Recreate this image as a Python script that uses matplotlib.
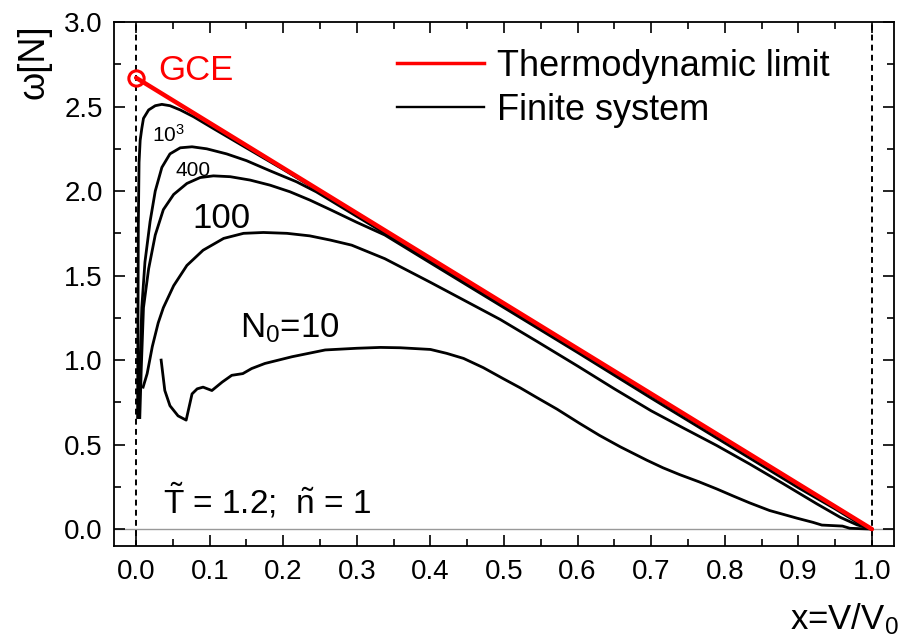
import matplotlib
matplotlib.use("Agg")
import matplotlib.pyplot as plt
from matplotlib.ticker import MultipleLocator
from matplotlib.lines import Line2D

plt.rcParams["font.family"] = ["Liberation Sans", "DejaVu Sans"]
plt.rcParams["mathtext.fontset"] = "custom"
plt.rcParams["mathtext.rm"] = "Liberation Sans"
plt.rcParams["mathtext.it"] = "Liberation Sans:italic"

# thermodynamic limit (straight line from the GCE point down to x = 1)
x_limit = [0.0, 1.0]
w_limit = [2.67, 0.0]

# finite systems
x_1000 = [0.002, 0.0025, 0.003, 0.004, 0.0055, 0.0077, 0.010, 0.017, 0.026, 0.035, 0.046,
          0.060, 0.078, 0.105, 0.15, 0.20, 0.30, 0.40, 0.50, 0.60, 0.70, 0.80, 0.90, 1.0]
w_1000 = [0.66, 1.20, 1.80, 2.17, 2.30, 2.37, 2.43, 2.48, 2.505, 2.513, 2.505,
          2.48, 2.44, 2.37, 2.255, 2.128, 1.862, 1.597, 1.331, 1.065, 0.799, 0.532, 0.266, 0.0]

x_400 = [0.004, 0.0055, 0.0077, 0.012, 0.019, 0.026, 0.035, 0.046, 0.060, 0.076, 0.096,
         0.123, 0.150, 0.182, 0.218, 0.245, 0.264, 0.30, 0.40, 0.50, 0.60, 0.70, 0.80,
         0.90, 1.0]
w_400 = [0.66, 1.00, 1.31, 1.58, 1.82, 2.00, 2.14, 2.22, 2.256, 2.262, 2.25,
         2.22, 2.18, 2.12, 2.055, 1.995, 1.945, 1.85, 1.588, 1.323, 1.058, 0.792, 0.527,
         0.262, 0.0]

x_200 = [0.005, 0.007, 0.010, 0.017, 0.026, 0.037, 0.051, 0.069, 0.087, 0.105, 0.128,
         0.155, 0.182, 0.209, 0.236, 0.264, 0.30, 0.338, 0.40, 0.50, 0.60, 0.70, 0.80,
         0.90, 0.95, 0.98, 1.0]
w_200 = [0.66, 0.95, 1.31, 1.54, 1.74, 1.89, 1.98, 2.045, 2.08, 2.09, 2.085,
         2.065, 2.035, 1.996, 1.947, 1.89, 1.815, 1.74, 1.575, 1.31, 1.045, 0.775, 0.51,
         0.245, 0.12, 0.04, 0.0]

x_100 = [0.0095, 0.015, 0.022, 0.030, 0.037, 0.051, 0.069, 0.091, 0.119, 0.146, 0.173,
         0.205, 0.236, 0.264, 0.293, 0.338, 0.40, 0.495, 0.545, 0.60, 0.65, 0.70, 0.743,
         0.789, 0.834, 0.879, 0.925, 0.957, 0.98, 1.0]
w_100 = [0.84, 0.92, 1.08, 1.22, 1.31, 1.44, 1.56, 1.65, 1.72, 1.75, 1.755,
         1.75, 1.735, 1.71, 1.68, 1.60, 1.46, 1.24, 1.11, 0.965, 0.83, 0.70, 0.60,
         0.495, 0.385, 0.27, 0.15, 0.07, 0.025, 0.0]

x_10 = [0.034, 0.039, 0.046, 0.057, 0.068, 0.076, 0.083, 0.091, 0.103, 0.117, 0.130, 0.145,
        0.157, 0.175, 0.212, 0.257, 0.300, 0.332, 0.359, 0.400, 0.422, 0.445, 0.472, 0.499,
        0.522, 0.544, 0.572, 0.603, 0.630, 0.658, 0.694, 0.716, 0.739, 0.765, 0.789, 0.812,
        0.834, 0.861, 0.898, 0.920, 0.932, 0.960, 0.970, 1.0]
w_10 = [1.00, 0.82, 0.73, 0.67, 0.645, 0.80, 0.83, 0.84, 0.82, 0.87, 0.91, 0.92,
        0.95, 0.98, 1.02, 1.06, 1.07, 1.075, 1.073, 1.063, 1.04, 1.01, 0.955, 0.89,
        0.836, 0.78, 0.71, 0.625, 0.554, 0.487, 0.408, 0.363, 0.322, 0.28, 0.238, 0.195,
        0.155, 0.11, 0.065, 0.04, 0.024, 0.018, 0.005, 0.0]

fig = plt.figure(figsize=(8.98, 6.39), dpi=100)
ax = fig.add_axes([0.127, 0.1455, 0.8685, 0.82])

ax.axhline(0.0, color="#999999", lw=1.0, zorder=1)
for xv in (0.0, 1.0):
    ax.axvline(xv, color="black", lw=1.4, ls=(0, (3, 2.2)), zorder=1)

for xs, ws in [(x_1000, w_1000), (x_400, w_400), (x_200, w_200), (x_100, w_100), (x_10, w_10)]:
    ax.plot(xs, ws, color="black", lw=2.0, solid_joinstyle="round", zorder=3)

ax.plot(x_limit, w_limit, color="red", lw=3.2, solid_capstyle="round", zorder=4)
ax.plot(x_limit[0], w_limit[0], marker="o", ms=11, mfc="none", mec="red", mew=2.2, zorder=5)

ax.text(0.030, 2.66, "GCE", color="red", fontsize=25)
ax.text(0.022, 2.29, r"10$^{3}$", fontsize=15)
ax.text(0.053, 2.09, "400", fontsize=15)
ax.text(0.077, 1.78, "100", fontsize=25)
ax.text(0.141, 1.135, r"N$_{0}$=10", fontsize=25)
ax.text(0.037, 0.09, r"$\tilde{\mathrm{T}}$ = 1.2;  $\tilde{\mathrm{n}}$ = 1", fontsize=24)

ax.set_xlim(-0.03, 1.03)
ax.set_ylim(-0.1, 3.0)
ax.xaxis.set_major_locator(MultipleLocator(0.1))
ax.xaxis.set_minor_locator(MultipleLocator(0.05))
ax.yaxis.set_major_locator(MultipleLocator(0.5))
ax.yaxis.set_minor_locator(MultipleLocator(0.25))
ax.tick_params(which="both", direction="in", top=True, right=True, width=1.2, labelsize=20)
ax.tick_params(which="major", length=8)
ax.tick_params(which="minor", length=5)
ax.tick_params(axis="x", pad=9)
ax.tick_params(axis="y", pad=8)
for side in ax.spines.values():
    side.set_linewidth(1.3)

ax.set_ylabel("ω[N]", fontsize=26)
ax.yaxis.set_label_coords(-0.08, 0.925)
fig.text(790 / 898, 1 - 629 / 639, "x=V/V$_{0}$", fontsize=25, ha="left", va="baseline")

handles = [Line2D([], [], color="red", lw=2.5), Line2D([], [], color="black", lw=1.7)]
ax.legend(handles, ["Thermodynamic limit", "Finite system"], loc="upper left",
          bbox_to_anchor=(397 / 898, 1 - 49 / 639), bbox_transform=fig.transFigure,
          frameon=False, fontsize=26, handlelength=2.4, handletextpad=0.38,
          labelspacing=0.25, borderpad=0, borderaxespad=0)

fig.savefig("out.png", dpi=100)
